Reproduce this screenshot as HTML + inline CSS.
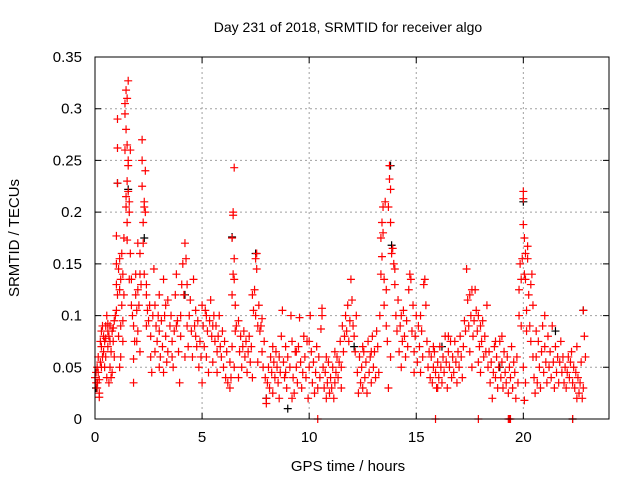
<!DOCTYPE html>
<html><head><meta charset="utf-8"><style>
body{margin:0;background:#fff}
svg{display:block;font-family:"Liberation Sans",sans-serif}
</style></head><body>
<svg id="chart" width="640" height="480">
<rect width="640" height="480" fill="#fff"/>
<text x="348" y="32" font-size="14" text-anchor="middle" fill="#000">Day 231 of 2018, SRMTID for receiver algo</text>
<text x="348" y="471" font-size="15" text-anchor="middle" fill="#000">GPS time / hours</text>
<text transform="translate(19,238) rotate(-90)" font-size="15" text-anchor="middle" fill="#000">SRMTID / TECUs</text>
<g id="grid"></g>
<g id="ticks"></g>
<g id="marks"></g>
<rect x="95" y="57" width="514" height="362" fill="none" stroke="#000" stroke-width="1"/>
</svg>
<script>
const xTicks = [0,5,10,15,20];
const yTicks = [0,0.05,0.1,0.15,0.2,0.25,0.3,0.35];
const yTickLabels = ["0","0.05","0.1","0.15","0.2","0.25","0.3","0.35"];
const blackPoints = [[0.05,0.03],[1.05,0.228],[1.55,0.222],[2.3,0.175],[6.4,0.176],[7.5,0.16],[9.0,0.01],[13.8,0.245],[13.85,0.168],[20.0,0.21],[22.8,0.105],[22.3,0],[8.0,0.02],[21.5,0.085],[4.2,0.12],[16.2,0.07],[18.9,0.05],[12.1,0.07]];
const redPoints = [
[0,.04],[0.05,.035],[0.1,.03],[0.1,.05],[0.15,.045],[0.15,.06],[0.2,.038],[0.2,.025],[0.25,.055],[0.3,.07],[0.3,.085],[0.35,.09],[0.4,.08],[0.4,.065],[0.45,.075],[0.5,.09],[0.5,.06],[0.55,.1],[0.6,.085],[0.6,.07],[0.65,.08],[0.7,.09],[0.7,.05],[0.75,.065],[0.8,.085],[0.8,.045],[0.85,.075],[0.9,.095],[0.9,.06],[0.95,.1],[0.55,.04],[0.45,.05],[0.35,.06],[0.25,.075],[0.65,.035],[0.75,.04],[0.2,.021],[0.12,.035],[0.05,.045],[0.3,.05],[0.5,.078],[0.6,.092],[0.7,.075],[0.85,.088],
[1.0,.105],[1.0,.13],[1.0,.15],[1.05,.12],[1.0,.177],[1.05,.228],[1.05,.262],[1.05,.29],[1.1,.145],[1.15,.125],[1.15,.155],[1.2,.135],[1.2,.09],[1.25,.11],[1.25,.16],[1.3,.14],[1.3,.095],[1.35,.175],[1.35,.12],[1.4,.305],[1.4,.295],[1.4,.26],[1.45,.318],[1.45,.28],[1.45,.215],[1.45,.205],[1.5,.19],[1.5,.31],[1.5,.265],[1.5,.23],[1.5,.173],[1.55,.25],[1.55,.22],[1.55,.327],[1.55,.245],[1.6,.21],[1.6,.2],[1.6,.135],[1.65,.16],[1.65,.26],[1.2,.06],[1.1,.08],[1.15,.05],[1.3,.075],
[1.7,.135],[1.7,.11],[1.75,.1],[1.8,.09],[1.8,.058],[1.8,.035],[1.85,.075],[1.9,.14],[1.9,.12],[1.95,.105],[2.0,.17],[2.0,.125],[2.05,.11],[2.1,.16],[2.1,.14],[2.15,.13],[2.2,.27],[2.2,.25],[2.2,.225],[2.25,.19],[2.25,.17],[2.3,.21],[2.3,.205],[2.35,.24],[2.35,.2],[2.3,.14],[2.4,.13],[2.4,.12],[2.45,.105],[2.5,.095],[2.55,.11],[2.6,.08],[2.6,.06],[2.65,.045],[2.0,.085],[2.1,.065],[1.95,.075],[2.4,.09],
[2.7,.1],[2.75,.145],[2.8,.11],[2.85,.09],[2.9,.075],[2.95,.1],[3.0,.12],[3.0,.085],[3.05,.06],[3.1,.095],[3.15,.07],[3.2,.135],[3.25,.1],[3.3,.08],[3.35,.055],[3.4,.115],[3.4,.065],[3.5,.09],[3.55,.1],[3.6,.075],[3.65,.05],[3.7,.085],[3.75,.12],[3.8,.14],[3.85,.095],[3.9,.065],[3.95,.035],[4.0,.08],[4.0,.1],[4.05,.13],[4.1,.15],[4.15,.12],[4.2,.17],[4.25,.155],[4.3,.13],[4.3,.09],[4.35,.07],[4.4,.1],[4.45,.115],[4.5,.085],[4.55,.06],[4.6,.135],[4.65,.09],[4.7,.105],[4.75,.07],[4.8,.095],[4.85,.05],[4.9,.075],[4.95,.06],[3.0,.05],[3.2,.045],[3.6,.06],[4.2,.06],[3.8,.09],[3.3,.11],[2.8,.065],[4.7,.08],
[5.0,.11],[5.0,.035],[5.05,.09],[5.1,.07],[5.15,.105],[5.2,.06],[5.25,.085],[5.3,.045],[5.35,.095],[5.4,.115],[5.45,.08],[5.5,.055],[5.55,.1],[5.6,.075],[5.65,.09],[5.7,.065],[5.75,.08],[5.8,.1],[5.85,.07],[5.9,.06],[5.95,.085],[6.0,.05],[6.05,.075],[6.1,.04],[6.15,.065],[6.2,.035],[5.2,.1],[5.5,.09],[5.7,.045],
[6.3,.055],[6.35,.04],[6.4,.12],[6.4,.175],[6.45,.2],[6.45,.197],[6.45,.14],[6.5,.155],[6.5,.243],[6.5,.135],[6.55,.11],[6.55,.085],[6.4,.07],[6.3,.03],[6.5,.05],
[6.6,.09],[6.7,.095],[6.75,.065],[6.8,.08],[6.85,.05],[6.9,.07],[6.95,.085],[7.0,.06],[7.05,.075],[7.1,.045],[7.15,.065],[7.2,.08],[7.25,.055],[7.3,.07],[7.35,.04],[6.7,.04],
[7.35,.12],[7.4,.105],[7.45,.125],[7.5,.155],[7.5,.1],[7.55,.16],[7.55,.145],[7.6,.09],[7.65,.11],[7.7,.085],[7.75,.09],[7.8,.065],[7.8,.097],[7.85,.05],[7.9,.075],[7.6,.055],
[7.95,.04],[8.0,.02],[8.0,.015],[8.05,.035],[8.1,.05],[8.15,.03],[8.2,.06],[8.25,.045],[8.3,.025],[8.35,.055],[8.4,.04],[8.45,.065],[8.5,.05],[8.55,.035],[8.6,.06],[8.65,.045],[8.7,.08],[8.75,.105],[8.8,.055],[8.85,.04],[8.9,.07],[8.95,.03],[9.0,.06],[9.1,.05],[9.15,.1],[9.2,.075],[9.25,.04],[9.3,.025],[9.35,.065],[9.4,.05],[9.45,.035],[9.5,.07],[9.55,.098],[9.6,.055],[9.65,.03],[9.7,.045],[9.75,.08],[9.8,.06],[9.85,.04],[9.9,.075],[9.95,.02],[10.0,.05],[10.05,.1],[10.1,.065],[10.15,.035],[10.2,.055],[10.25,.025],[10.3,.045],[10.35,.07],[10.4,.03],[10.45,.06],[10.5,.04],[10.55,.087],[10.6,.107],[10.6,.1],[10.65,.05],[10.7,.03],[10.75,.045],[10.8,.02],[10.85,.035],[10.9,.055],[10.95,.025],[11.0,.04],[11.05,.03],[11.1,.05],[11.15,.02],[11.2,.035],[11.25,.045],[11.3,.06],[11.35,.04],[11.4,.055],[11.45,.075],[11.5,.05],[11.55,.09],[11.6,.065],[11.65,.08],[11.7,.1],[11.75,.085],[11.8,.11],[11.85,.075],[11.9,.095],[11.95,.135],[12.0,.115],[12.05,.09],[12.1,.08],[12.15,.065],[12.2,.1],[8.3,.07],[8.9,.045],[9.4,.065],[10.0,.075],[10.8,.06],[11.2,.065],[11.5,.03],[9.2,.02],[8.6,.02],
[12.25,.045],[12.3,.025],[12.35,.06],[12.4,.035],[12.45,.05],[12.5,.03],[12.55,.065],[12.6,.04],[12.65,.055],[12.7,.025],[12.75,.075],[12.8,.045],[12.85,.06],[12.9,.035],[12.95,.08],[13.0,.05],[13.05,.065],[13.1,.04],[13.15,.085],[13.2,.07],[13.25,.045],[12.5,.07],[12.9,.065],
[13.3,.1],[13.35,.14],[13.35,.175],[13.4,.19],[13.4,.157],[13.45,.205],[13.45,.18],[13.5,.135],[13.5,.11],[13.55,.21],[13.6,.09],[13.6,.125],[13.65,.075],[13.7,.205],[13.75,.245],[13.75,.232],[13.8,.222],[13.8,.19],[13.85,.16],[13.9,.165],[13.95,.15],[14.0,.13],[14.05,.1],[13.7,.03],[13.8,.06],[14.0,.145],[14.1,.085],
[14.15,.115],[14.2,.065],[14.25,.09],[14.3,.1],[14.35,.075],[14.4,.105],[14.45,.08],[14.5,.06],[14.55,.095],[14.6,.07],[14.65,.125],[14.7,.14],[14.75,.135],[14.8,.085],[14.85,.11],[14.9,.065],[14.95,.08],[15.0,.1],[15.05,.055],[15.1,.09],[15.15,.07],[15.2,.045],[15.25,.085],[15.3,.06],[15.35,.13],[15.4,.135],[15.45,.11],[15.5,.075],[15.55,.05],[15.6,.065],[14.3,.05],[14.9,.045],[15.2,.1],
[15.65,.04],[15.7,.06],[15.75,.035],[15.8,.05],[15.85,.065],[15.9,.045],[15.95,.03],[16.0,.055],[16.05,.04],[16.1,.07],[16.15,.05],[16.2,.035],[16.25,.06],[16.3,.045],[16.35,.08],[16.4,.055],[16.45,.03],[16.5,.065],[16.55,.05],[16.6,.075],[16.65,.04],[16.7,.06],[16.75,.045],[16.8,.075],[16.85,.055],[16.9,.035],[16.95,.065],[17.0,.05],[17.05,.08],[17.1,.06],[17.15,.04],[16.0,.03],[16.5,.08],[15.8,.07],
[17.2,.07],[17.25,.095],[17.3,.085],[17.35,.145],[17.4,.115],[17.45,.09],[17.5,.12],[17.5,.065],[17.55,.1],[17.6,.125],[17.65,.08],[17.7,.095],[17.75,.125],[17.8,.105],[17.85,.085],[17.9,.1],[17.95,.07],[18.0,.09],[18.05,.075],[18.1,.095],[18.15,.06],[18.2,.08],[18.25,.065],[17.6,.05],[17.9,.055],[18.0,.045],[18.3,.11],
[18.35,.05],[18.4,.065],[18.45,.035],[18.5,.055],[18.55,.02],[18.6,.045],[18.65,.07],[18.7,.04],[18.75,.06],[18.8,.03],[18.85,.05],[18.9,.075],[18.95,.04],[19.0,.055],[19.05,.03],[19.1,.065],[19.15,.045],[19.2,.035],[19.25,.06],[19.3,.025],[19.35,.05],[19.4,.04],[19.45,.07],[19.5,.03],[19.55,.055],[19.6,.045],[19.65,.02],[19.7,.06],[19.75,.035],[19.0,.08],[18.7,.075],
[19.8,.1],[19.8,.125],[19.85,.15],[19.9,.135],[19.9,.09],[19.95,.155],[20.0,.22],[20.0,.213],[20.0,.188],[20.05,.175],[20.05,.14],[20.1,.16],[20.1,.135],[20.15,.105],[20.15,.085],[20.2,.167],[20.2,.155],[20.25,.12],[20.3,.09],[20.35,.075],[20.35,.13],[20.4,.14],[20.45,.11],[20.45,.06],[20.0,.05],[20.1,.035],[20.05,.018],
[20.5,.04],[20.55,.025],[20.6,.06],[20.65,.035],[20.7,.075],[20.75,.05],[20.8,.03],[20.85,.065],[20.9,.09],[20.95,.045],[21.0,.07],[21.05,.055],[21.1,.035],[21.15,.08],[21.2,.05],[21.25,.065],[21.3,.04],[21.35,.09],[21.4,.055],[21.45,.03],[21.5,.07],[21.55,.045],[21.6,.06],[21.65,.035],[21.7,.055],[21.75,.075],[21.8,.045],[21.85,.06],[21.9,.035],[21.95,.05],[22.0,.03],[22.05,.045],[22.1,.06],[22.15,.04],[22.2,.055],[22.25,.065],[22.3,.035],[22.35,.05],[22.4,.03],[22.45,.045],[22.5,.07],[22.55,.04],[22.6,.025],[22.65,.035],[22.7,.055],[22.75,.02],[22.8,.03],[22.85,.08],[22.9,.06],[22.5,.02],[21.0,.1],[20.6,.085],[22.8,.105],
[10.4,0],[15.9,0],[17.9,0],[19.3,0],[19.4,0],[19.35,0],[22.3,0]
];
const X0=95,X1=609,Y0=419,Y1=57,XMAX=24,YMAX=0.35;
function sx(v){return X0+(v/XMAX)*(X1-X0);}
function sy(v){return Y0-(v/YMAX)*(Y0-Y1);}
const NS="http://www.w3.org/2000/svg";
const grid=document.getElementById('grid'),ticks=document.getElementById('ticks'),marks=document.getElementById('marks');
function mk(tag,attrs,parent){const e=document.createElementNS(NS,tag);for(const k in attrs)e.setAttribute(k,attrs[k]);parent.appendChild(e);return e;}
xTicks.forEach(t=>{
  const x=sx(t);
  if(t>0){const g=mk('line',{x1:x,x2:x,y1:Y1,y2:Y0,stroke:'#a0a0a0','stroke-dasharray':'2,3'},grid);
  
  }
  const tk=mk('path',{d:`M${x},${Y0}v-6M${x},${Y1}v6`,stroke:'#000'},ticks);
  
  
  const lb=mk('text',{x:x,y:Y0+23,'font-size':15,'text-anchor':'middle'},ticks);lb.textContent=String(t);
  
  
});
yTicks.forEach((t,i)=>{
  const y=sy(t);
  if(t>0&&t<YMAX){const g=mk('line',{x1:X0,x2:X1,y1:y,y2:y,stroke:'#a0a0a0','stroke-dasharray':'2,3'},grid);
  
  }
  const tk=mk('path',{d:`M${X0},${y}h6M${X1},${y}h-6`,stroke:'#000'},ticks);
  
  
  const lb=mk('text',{x:X0-13,y:y+5,'font-size':15,'text-anchor':'end'},ticks);lb.textContent=yTickLabels[i];
  
  
});
function plus(p,color,name){
  const x=sx(p[0]),y=sy(p[1]);
  const e=mk('path',{d:`M${x-4},${y}h8M${x},${y-4}v8`,stroke:color,'stroke-width':1.2,fill:'none'},marks);
  
  
}
blackPoints.forEach(p=>plus(p,'#000','black-point'));
redPoints.forEach(p=>plus(p,'#ff0000','red-point'));
</script>
</body></html>
